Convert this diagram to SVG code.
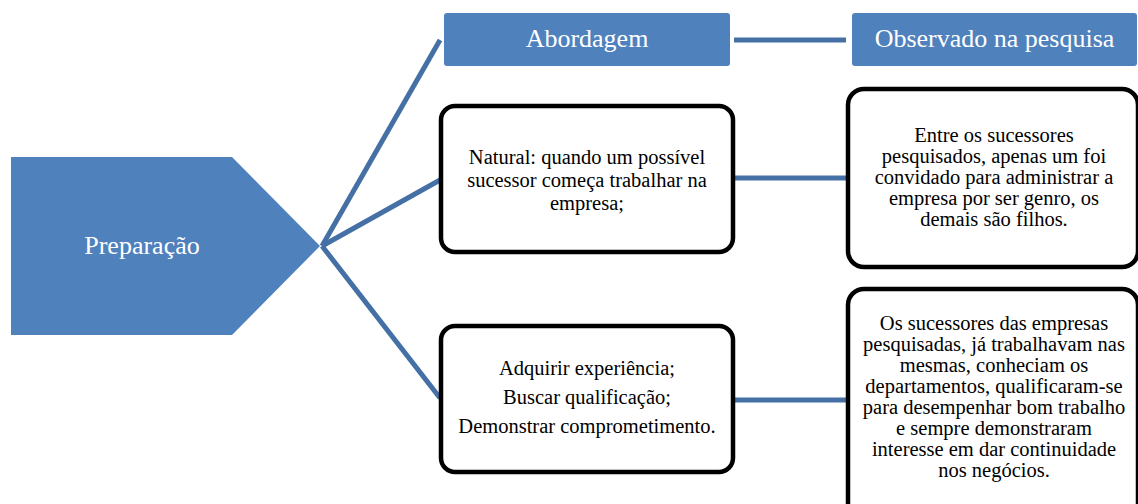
<svg xmlns="http://www.w3.org/2000/svg" width="1138" height="504" viewBox="0 0 1138 504">
  <style>
    .blue { fill: #4F81BD; }
    .card { fill: #FFFFFF; stroke: #000000; stroke-width: 4.5; }
    .link { stroke: #4570A6; stroke-width: 5; fill: none; }
    .head { font-family: 'Liberation Serif', 'DejaVu Serif', serif; font-size: 26px; fill: #FFFFFF; text-anchor: middle; }
    .body { font-family: 'Liberation Serif', 'DejaVu Serif', serif; font-size: 20.5px; fill: #000000; text-anchor: middle; }
  </style>

  <!-- connectors -->
  <g id="connectors">
    <line class="link" x1="322" y1="246" x2="440" y2="40"/>
    <line class="link" x1="322" y1="246" x2="440" y2="180"/>
    <line class="link" x1="322" y1="246" x2="440" y2="398"/>
    <line class="link" x1="734" y1="40" x2="846" y2="40"/>
    <line class="link" x1="734" y1="178" x2="848" y2="178"/>
    <line class="link" x1="734" y1="400" x2="848" y2="400"/>
  </g>

  <!-- root: pentagon arrow -->
  <g id="preparacao">
    <polygon class="blue" points="11,157 232,157 320,246 232,335 11,335"/>
    <text class="head" x="142" y="254">Preparação</text>
  </g>

  <!-- column headers -->
  <g id="abordagem">
    <rect class="blue" x="444" y="13" width="286" height="53" rx="3"/>
    <text class="head" x="587" y="47">Abordagem</text>
  </g>
  <g id="observado">
    <rect class="blue" x="852" y="13" width="285" height="53" rx="3"/>
    <text class="head" x="994.5" y="47">Observado na pesquisa</text>
  </g>

  <!-- approach cards -->
  <g id="natural">
    <rect class="card" x="441" y="106" width="292" height="146" rx="14"/>
    <text class="body" x="587" y="164">Natural: quando um possível</text>
    <text class="body" x="587" y="187">sucessor começa trabalhar na</text>
    <text class="body" x="587" y="210">empresa;</text>
  </g>
  <g id="adquirir">
    <rect class="card" x="441" y="326" width="292" height="146" rx="14"/>
    <text class="body" x="587" y="375">Adquirir experiência;</text>
    <text class="body" x="587" y="404">Buscar qualificação;</text>
    <text class="body" x="587" y="433">Demonstrar comprometimento.</text>
  </g>

  <!-- research findings cards -->
  <g id="obs-genro">
    <rect class="card" x="848" y="89" width="290" height="178" rx="16"/>
    <text class="body" x="994" y="142">Entre os sucessores</text>
    <text class="body" x="994" y="163">pesquisados, apenas um foi</text>
    <text class="body" x="994" y="184">convidado para administrar a</text>
    <text class="body" x="994" y="205">empresa por ser genro, os</text>
    <text class="body" x="994" y="226">demais são filhos.</text>
  </g>
  <g id="obs-trabalho">
    <rect class="card" x="848" y="289" width="290" height="240" rx="16"/>
    <text class="body" x="994" y="330">Os sucessores das empresas</text>
    <text class="body" x="994" y="351">pesquisadas, já trabalhavam nas</text>
    <text class="body" x="994" y="372">mesmas, conheciam os</text>
    <text class="body" x="994" y="393">departamentos, qualificaram-se</text>
    <text class="body" x="994" y="414">para desempenhar bom trabalho</text>
    <text class="body" x="994" y="435">e sempre demonstraram</text>
    <text class="body" x="994" y="456">interesse em dar continuidade</text>
    <text class="body" x="994" y="477">nos negócios.</text>
  </g>
</svg>
